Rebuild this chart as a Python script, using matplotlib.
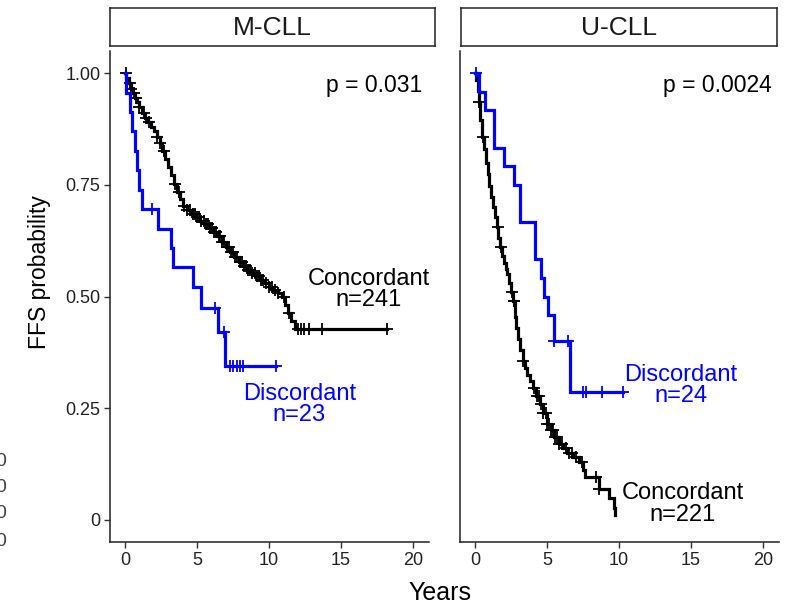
import numpy as np
import matplotlib
matplotlib.use("Agg")
import matplotlib.pyplot as plt

plt.rcParams['font.family'] = ['Liberation Sans', 'DejaVu Sans']

# ---------------- data ----------------
panels = ["M-CLL", "U-CLL"]
p_values = ["p = 0.031", "p = 0.0024"]

# M-CLL, concordant (n=241): event times (years) and survival after each event
m_conc_t = [0.10, 0.25, 0.40, 0.55, 0.70, 0.85, 1.00, 1.20, 1.40, 1.60, 1.80, 2.00,
            2.20, 2.40, 2.60, 2.80, 3.00, 3.20, 3.40, 3.60, 3.80, 4.00, 4.30, 4.60,
            4.90, 5.20, 5.50, 5.80, 6.10, 6.40, 6.70, 7.00, 7.30, 7.60, 7.90, 8.20,
            8.50, 8.80, 9.10, 9.40, 9.70, 10.00, 10.30, 10.60, 10.90, 11.10, 11.30,
            11.50, 11.80]
m_conc_s = [0.990, 0.978, 0.965, 0.955, 0.945, 0.935, 0.925, 0.912, 0.900, 0.890,
            0.880, 0.870, 0.858, 0.845, 0.825, 0.808, 0.790, 0.772, 0.752, 0.735,
            0.718, 0.703, 0.693, 0.685, 0.678, 0.670, 0.662, 0.653, 0.645, 0.635,
            0.623, 0.612, 0.600, 0.588, 0.578, 0.568, 0.560, 0.552, 0.545, 0.537,
            0.530, 0.522, 0.515, 0.508, 0.500, 0.482, 0.462, 0.445, 0.428]
m_conc_cens = [0.05, 0.35, 0.45, 0.60, 0.75, 1.00, 1.30, 1.45, 1.70, 2.20, 2.40, 2.70,
               3.50, 3.75, 4.10, 4.30, 4.50, 4.70, 4.85, 5.00, 5.15, 5.30, 5.45, 5.60,
               5.75, 5.90, 6.05, 6.20, 6.35, 6.50, 6.60, 6.75, 6.90, 7.05, 7.20, 7.35,
               7.50, 7.65, 7.80, 7.95, 8.10, 8.25, 8.40, 8.55, 8.70, 8.85, 9.00, 9.15,
               9.30, 9.45, 9.60, 9.80, 10.00, 10.20, 10.40, 10.60, 11.05, 11.40, 12.00,
               12.20, 12.40, 12.80, 13.70, 18.20]

# M-CLL, discordant (n=23)
m_disc_t = [0.10, 0.35, 0.46, 0.70, 0.80, 1.00, 1.20, 2.30, 3.20, 3.35, 4.70, 5.30,
            6.45, 6.95]
m_disc_s = [0.957, 0.913, 0.870, 0.826, 0.783, 0.739, 0.696, 0.652, 0.609, 0.565,
            0.522, 0.474, 0.420, 0.345]
m_disc_cens = [1.85, 6.25, 6.85, 7.30, 7.50, 7.75, 8.00, 8.20, 10.50]

# U-CLL, concordant (n=221)
u_conc_t = [0.08, 0.18, 0.28, 0.38, 0.50, 0.62, 0.75, 0.88, 1.00, 1.12, 1.25, 1.38,
            1.50, 1.62, 1.75, 1.88, 2.00, 2.12, 2.25, 2.38, 2.50, 2.62, 2.75, 2.88,
            3.00, 3.15, 3.30, 3.45, 3.60, 3.80, 4.00, 4.25, 4.50, 4.75, 5.00, 5.25,
            5.50, 5.80, 6.10, 6.40, 6.80, 7.20, 7.50, 7.65, 8.60, 9.30, 9.65, 9.72]
u_conc_s = [0.985, 0.960, 0.935, 0.895, 0.858, 0.830, 0.800, 0.775, 0.748, 0.722,
            0.700, 0.678, 0.655, 0.632, 0.610, 0.590, 0.575, 0.562, 0.550, 0.530,
            0.510, 0.490, 0.455, 0.430, 0.405, 0.380, 0.355, 0.340, 0.325, 0.310,
            0.295, 0.278, 0.260, 0.238, 0.215, 0.200, 0.185, 0.170, 0.160, 0.150,
            0.140, 0.130, 0.112, 0.095, 0.068, 0.048, 0.027, 0.011]
u_conc_cens = [0.28, 0.55, 1.60, 1.78, 2.55, 2.68, 2.72, 3.30, 4.10, 4.30, 4.45, 4.60,
               4.75, 4.90, 5.00, 5.15, 5.25, 5.40, 5.55, 5.70, 5.85, 6.05, 6.30, 6.55,
               6.70, 7.00, 7.40, 8.40, 8.60]

# U-CLL, discordant (n=24)
u_disc_t = [0.28, 0.69, 1.30, 2.00, 2.70, 3.15, 4.20, 4.55, 4.80, 5.10, 5.45, 6.60]
u_disc_s = [0.958, 0.917, 0.833, 0.792, 0.750, 0.667, 0.583, 0.542, 0.500, 0.458,
            0.400, 0.285]
u_disc_cens = [0.05, 5.50, 6.45, 7.50, 7.70, 8.80, 10.30]

groups = {
    "M-CLL": [("Concordant\nn=241", "black", m_conc_t, m_conc_s, m_conc_cens, (16.9, 0.515)),
              ("Discordant\nn=23", "#0000FF", m_disc_t, m_disc_s, m_disc_cens, (12.1, 0.258))],
    "U-CLL": [("Concordant\nn=221", "black", u_conc_t, u_conc_s, u_conc_cens, (14.4, 0.035)),
              ("Discordant\nn=24", "#0000FF", u_disc_t, u_disc_s, u_disc_cens, (14.3, 0.30))],
}

x_ticks = [0, 5, 10, 15, 20]
y_ticks = [0, 0.25, 0.50, 0.75, 1.00]
y_tick_labels = ["0", "0.25", "0.50", "0.75", "1.00"]

# ---------------- figure ----------------
W, H = 786, 606
fig = plt.figure(figsize=(W / 100, H / 100), dpi=100)


def box(l, t, r, b):
    return [l / W, 1 - b / H, (r - l) / W, (b - t) / H]


panel_boxes = [(110, 51, 429, 542), (460, 51, 779, 542)]
strip_boxes = [(110, 8, 435, 46), (461, 8, 777, 46)]


def km_curve(times, surv, cens):
    end = max([times[-1]] + list(cens))
    xs = np.r_[0.0, times, end]
    ys = np.r_[1.0, surv, surv[-1]]
    t = np.asarray(times)
    s = np.asarray(surv)
    cy = [1.0 if c < t[0] else s[np.searchsorted(t, c, side='right') - 1] for c in cens]
    return xs, ys, np.asarray(cens), np.asarray(cy)


for i, name in enumerate(panels):
    ax = fig.add_axes(box(*panel_boxes[i]))
    for label, color, t, s, c, (lx, ly) in groups[name]:
        xs, ys, cx, cy = km_curve(t, s, c)
        ax.step(xs, ys, where='post', color=color, lw=2.3, solid_joinstyle='miter')
        ax.plot(cx, cy, ls='none', marker='+', ms=9, mew=1.3, color=color)
        ax.text(lx, ly, label, color=color, fontsize=17, ha='center', va='center',
                multialignment='center', linespacing=0.95)
    ax.text(20.6, 0.972, p_values[i], fontsize=16.5, ha='right', va='center')

    ax.set_xlim(-1.04, 21.1)
    ax.set_ylim(-0.05, 1.05)
    ax.set_xticks(x_ticks)
    ax.set_yticks(y_ticks)
    for side in ('top', 'right'):
        ax.spines[side].set_visible(False)
    for side in ('left', 'bottom'):
        ax.spines[side].set_linewidth(1.1)
        ax.spines[side].set_color('#222222')
    ax.tick_params(axis='both', length=4, width=1.0, color='#333333', labelsize=13,
                   labelcolor='#222222', pad=3)
    if i == 0:
        ax.set_yticklabels(y_tick_labels)
    else:
        ax.tick_params(axis='y', left=False, labelleft=False)

    sax = fig.add_axes(box(*strip_boxes[i]))
    sax.set_xticks([])
    sax.set_yticks([])
    for sp in sax.spines.values():
        sp.set_linewidth(1.1)
        sp.set_color('#222222')
    sax.text(0.5, 0.48, name, fontsize=19, ha='center', va='center',
             transform=sax.transAxes, color='#1a1a1a')

fig.text(40 / W, 1 - 272 / H, "FFS probability", rotation=90, fontsize=16.5,
         ha='center', va='center')
fig.text(440 / W, 1 - 593 / H, "Years", fontsize=18, ha='center', va='center')

# clipped tick digits at the left edge
for yy in (462, 488, 514, 541):
    fig.text(0.5 / W, 1 - yy / H, "0", fontsize=14, ha='center', va='center',
             color='#444444')

fig.savefig("out.png", dpi=100)
